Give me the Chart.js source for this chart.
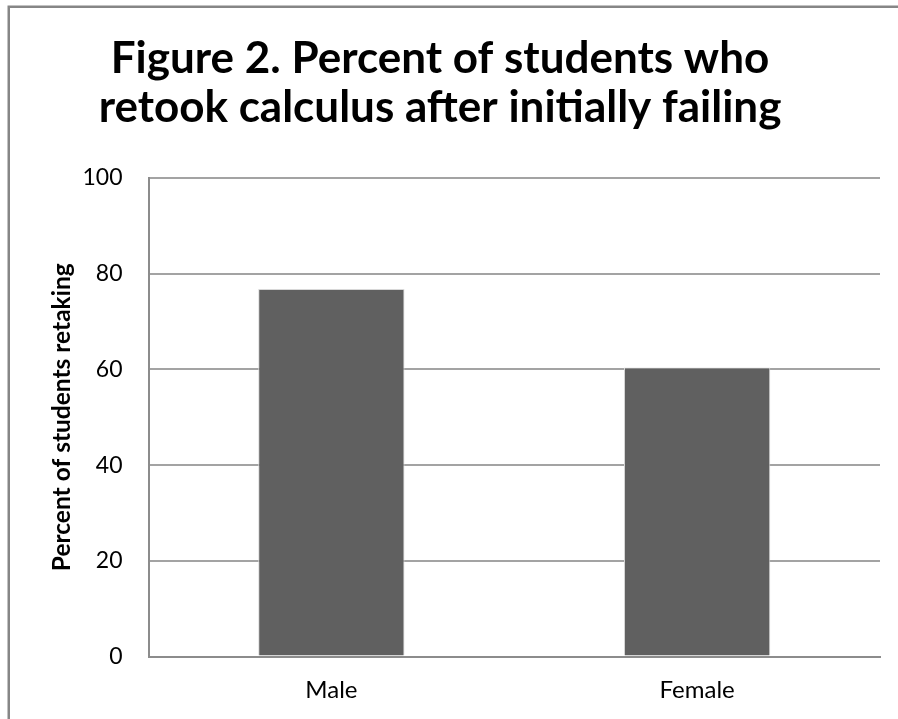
<!DOCTYPE html>
<html>
<head>
<meta charset="utf-8">
<script src="https://cdn.jsdelivr.net/npm/chart.js@4.4.1/dist/chart.umd.min.js"></script>
<style>
  html, body { margin: 0; padding: 0; background: #ffffff; overflow: hidden; }
  #wrap { position: relative; width: 898px; height: 719px; }
  canvas { display: block; }
</style>
</head>
<body>
<div id="wrap"><canvas id="chart" width="898" height="719"></canvas></div>
<script>
// Categories and values
const categories = ['Male', 'Female'];
const percentRetaking = [76.8, 60.4];
const yTicks = [0, 20, 40, 60, 80, 100];

const FONT = 'Lato, "Open Sans", "Liberation Sans", sans-serif';

// Outer frame of the chart object (top and left edges show in view)
const framePlugin = {
  id: 'frame',
  afterDraw(chart) {
    const ctx = chart.ctx;
    ctx.save();
    ctx.strokeStyle = '#868686';
    ctx.lineWidth = 2.5;
    ctx.beginPath();
    ctx.moveTo(8.75, chart.height + 5);
    ctx.lineTo(8.75, 6.75);
    ctx.lineTo(chart.width + 5, 6.75);
    ctx.stroke();
    ctx.restore();
  }
};

new Chart(document.getElementById('chart'), {
  type: 'bar',
  data: {
    labels: categories,
    datasets: [{
      data: percentRetaking,
      backgroundColor: '#606060',
      borderColor: '#d8d8d8',
      borderWidth: 1,
      barPercentage: 0.4,
      categoryPercentage: 1.0
    }]
  },
  options: {
    responsive: false,
    animation: false,
    events: [],
    layout: { padding: { left: 0, right: 18, top: 0, bottom: 0 } },
    plugins: {
      legend: { display: false },
      tooltip: { enabled: false },
      title: {
        display: true,
        text: ['Figure 2. Percent of students who', 'retook calculus after initially failing'],
        color: '#000000',
        font: { family: FONT, size: 44, weight: 'bold', lineHeight: 1.114 },
        padding: { top: 34.5, bottom: 45.5 }
      }
    },
    scales: {
      x: {
        grid: { display: false, drawTicks: false },
        border: { display: true, color: '#8c8c8c', width: 2 },
        ticks: {
          color: '#000000',
          font: { family: FONT, size: 24 },
          padding: 19
        },
        afterFit(scale) { scale.height = 62.5; }
      },
      y: {
        min: 0,
        max: 100,
        afterBuildTicks(scale) { scale.ticks = yTicks.map(v => ({ value: v })); },
        grid: { color: '#a3a3a3', lineWidth: 2, drawTicks: false },
        border: { display: true, color: '#8c8c8c', width: 2 },
        ticks: {
          color: '#000000',
          font: { family: FONT, size: 23 },
          padding: 26
        },
        title: {
          display: true,
          text: 'Percent of students retaking',
          color: '#000000',
          font: { family: FONT, size: 24.5, weight: 'bold', lineHeight: 1.2 },
          padding: { top: 47, bottom: 0 }
        },
        afterFit(scale) { scale.width = 148.5; }
      }
    }
  },
  plugins: [framePlugin]
});
</script>
</body>
</html>
